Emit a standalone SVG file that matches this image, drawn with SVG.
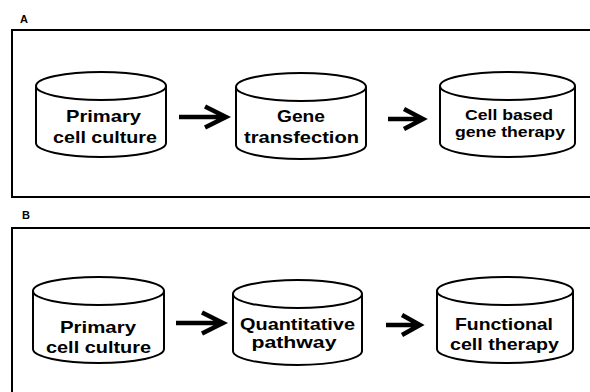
<svg xmlns="http://www.w3.org/2000/svg" width="590" height="392" viewBox="0 0 590 392">
<style>
.frame{fill:none;stroke:#000;stroke-width:2}
.cyl{fill:#fff;stroke:#000;stroke-width:2}
.t{font-family:"Liberation Sans",Arial,sans-serif;font-weight:bold;font-size:17px;fill:#000;text-anchor:middle}
.t2{font-size:15.5px}
.lbl{font-family:"Liberation Sans",Arial,sans-serif;font-weight:bold;font-size:11px;fill:#000}
.arr{fill:none;stroke:#000;stroke-width:4.5;stroke-linecap:butt;stroke-linejoin:miter}
</style>
<rect width="590" height="392" fill="#fff"/>
<g id="panelA">
<text class="lbl" x="20" y="23">A</text>
<rect class="frame" x="12" y="30" width="600" height="167"/>
</g>
<g id="panelB">
<text class="lbl" x="22" y="219">B</text>
<rect class="frame" x="12" y="228" width="600" height="200"/>
</g>
<g id="a1">
<path class="cyl" d="M36 86 V143 A65 14 0 0 0 166 143 V86"/>
<ellipse class="cyl" cx="101" cy="86" rx="65" ry="14"/>
<text class="t" x="103.5" y="122" textLength="75" lengthAdjust="spacingAndGlyphs">Primary</text>
<text class="t" x="105" y="143" textLength="104" lengthAdjust="spacingAndGlyphs">cell culture</text>
</g>
<g id="a2">
<path class="cyl" d="M236 87 V145 A65 14 0 0 0 366 145 V87"/>
<ellipse class="cyl" cx="301" cy="87" rx="65" ry="14"/>
<text class="t" x="301" y="122" textLength="48" lengthAdjust="spacingAndGlyphs">Gene</text>
<text class="t" x="301.5" y="143" textLength="115" lengthAdjust="spacingAndGlyphs">transfection</text>
</g>
<g id="a3">
<path class="cyl" d="M440 86 V143 A67.5 14 0 0 0 575 143 V86"/>
<ellipse class="cyl" cx="507.5" cy="86" rx="67.5" ry="14"/>
<text class="t t2" x="509" y="120" textLength="88" lengthAdjust="spacingAndGlyphs">Cell based</text>
<text class="t t2" x="510" y="137" textLength="110" lengthAdjust="spacingAndGlyphs">gene therapy</text>
</g>
<g id="b1">
<path class="cyl" d="M33 291 V349 A65.5 14 0 0 0 164 349 V291"/>
<ellipse class="cyl" cx="98.5" cy="291" rx="65.5" ry="14"/>
<text class="t" x="98" y="333" textLength="76" lengthAdjust="spacingAndGlyphs">Primary</text>
<text class="t" x="98.5" y="353" textLength="105" lengthAdjust="spacingAndGlyphs">cell culture</text>
</g>
<g id="b2">
<path class="cyl" d="M233 294 V351 A64.5 14 0 0 0 362 351 V294"/>
<ellipse class="cyl" cx="297.5" cy="294" rx="64.5" ry="14"/>
<text class="t" x="297.5" y="330" textLength="115" lengthAdjust="spacingAndGlyphs">Quantitative</text>
<text class="t" x="294" y="348" textLength="85" lengthAdjust="spacingAndGlyphs">pathway</text>
</g>
<g id="b3">
<path class="cyl" d="M437 291 V349 A68 14 0 0 0 573 349 V291"/>
<ellipse class="cyl" cx="505" cy="291" rx="68" ry="14"/>
<text class="t" x="504" y="330" textLength="98" lengthAdjust="spacingAndGlyphs">Functional</text>
<text class="t" x="504.5" y="350" textLength="109" lengthAdjust="spacingAndGlyphs">cell therapy</text>
</g>
<g id="connectors">
<path class="arr" d="M179 117 H225 M205 106.5 L226 117 L205 127.5"/>
<path class="arr" d="M388 119 H422 M404 109 L423 119 L404 129"/>
<path class="arr" d="M176 323 H222 M202 312.5 L223 323 L202 333.5"/>
<path class="arr" d="M386 325 H419 M402 315 L420 325 L402 335"/>
</g>
</svg>
